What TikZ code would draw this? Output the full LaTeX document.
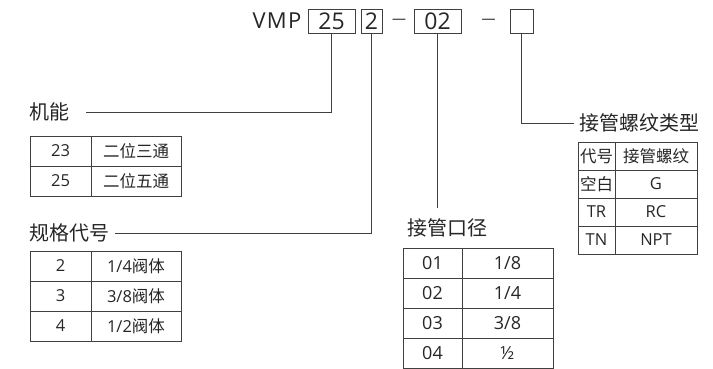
\documentclass[tikz,border=0pt]{standalone}
\usepackage{fontspec}
\setmainfont{Open Sans}
\newfontfamily\cjk{Noto Sans CJK SC}
\usepackage{tikz}
\usetikzlibrary{positioning}

\begin{document}
\begin{tikzpicture}[
    x=1pt, y=-1pt,
    line width=0.8pt, draw=black!75,
    codebox/.style={draw, minimum height=24pt, inner sep=0pt, outer sep=0pt,
        text=black!85, font=\fontsize{23}{23}\selectfont},
    title/.style={inner sep=0pt, text=black!85,
        font=\fontsize{22}{22}\selectfont\addfontfeatures{LetterSpace=6}},
    sep/.style={inner sep=0pt, text=black!85, font=\fontsize{14}{14}\selectfont},
    label/.style={inner sep=0pt, text=black!85, font=\fontsize{20}{20}\selectfont\cjk},
    cell/.style={draw, inner sep=0pt, outer sep=0pt, text=black!85,
        font=\fontsize{16.5}{16.5}\selectfont},
    bigcell/.style={cell, font=\fontsize{18}{18}\selectfont},
    link/.style={draw=black!75, line width=0.8pt}
]
    \useasboundingbox (0,0) rectangle (713,369);

    % Top: model code
    \node[title] (vmp) at (277,21) {VMP};
    \node[codebox, minimum width=47pt] (b25) at (331.5,21) {25};
    \node[codebox, minimum width=21pt] (b2) at (371.5,21) {2};
    \node[sep] (dash1) at (399,21) {—};
    \node[codebox, minimum width=47pt] (b02) at (437.5,21) {02};
    \node[sep] (dash2) at (488.5,21) {—};
    \node[codebox, minimum width=23pt] (bx) at (521.5,21) {};

    % Labels
    \node[label, anchor=west] (jineng) at (29,112) {机能};
    \node[label, anchor=west] (guige) at (29,233) {规格代号};
    \node[label] (jiekou) at (447,228) {接管口径};
    \node[label, anchor=west] (luowen) at (579,123) {接管螺纹类型};

    % Table: function
    \node[cell, minimum width=61pt, minimum height=30pt, anchor=north west] (f1a) at (30,136) {23};
    \node[cell, minimum width=90pt, minimum height=30pt, right=0pt of f1a] (f1b) {\cjk 二位三通};
    \node[cell, minimum width=61pt, minimum height=30pt, below=0pt of f1a] (f2a) {25};
    \node[cell, minimum width=90pt, minimum height=30pt, right=0pt of f2a] (f2b) {\cjk 二位五通};

    % Table: size code
    \node[cell, minimum width=61pt, minimum height=30pt, anchor=north west] (s1a) at (30,251) {2};
    \node[cell, minimum width=90pt, minimum height=30pt, right=0pt of s1a] (s1b) {1/4{\cjk 阀体}};
    \node[cell, minimum width=61pt, minimum height=30pt, below=0pt of s1a] (s2a) {3};
    \node[cell, minimum width=90pt, minimum height=30pt, right=0pt of s2a] (s2b) {3/8{\cjk 阀体}};
    \node[cell, minimum width=61pt, minimum height=30pt, below=0pt of s2a] (s3a) {4};
    \node[cell, minimum width=90pt, minimum height=30pt, right=0pt of s3a] (s3b) {1/2{\cjk 阀体}};

    % Table: port size
    \node[bigcell, minimum width=59pt, minimum height=30pt, anchor=north west] (p1a) at (403,248) {01};
    \node[bigcell, minimum width=91pt, minimum height=30pt, right=0pt of p1a] (p1b) {1/8};
    \node[bigcell, minimum width=59pt, minimum height=30pt, below=0pt of p1a] (p2a) {02};
    \node[bigcell, minimum width=91pt, minimum height=30pt, right=0pt of p2a] (p2b) {1/4};
    \node[bigcell, minimum width=59pt, minimum height=30pt, below=0pt of p2a] (p3a) {03};
    \node[bigcell, minimum width=91pt, minimum height=30pt, right=0pt of p3a] (p3b) {3/8};
    \node[bigcell, minimum width=59pt, minimum height=30pt, below=0pt of p3a] (p4a) {04};
    \node[bigcell, minimum width=91pt, minimum height=30pt, right=0pt of p4a] (p4b) {½};

    % Table: thread type
    \node[cell, minimum width=37pt, minimum height=28pt, anchor=north west] (t1a) at (578,142) {\cjk 代号};
    \node[cell, minimum width=82pt, minimum height=28pt, right=0pt of t1a] (t1b) {\cjk 接管螺纹};
    \node[cell, minimum width=37pt, minimum height=28pt, below=0pt of t1a] (t2a) {\cjk 空白};
    \node[cell, minimum width=82pt, minimum height=28pt, right=0pt of t2a] (t2b) {G};
    \node[cell, minimum width=37pt, minimum height=28pt, below=0pt of t2a] (t3a) {TR};
    \node[cell, minimum width=82pt, minimum height=28pt, right=0pt of t3a] (t3b) {RC};
    \node[cell, minimum width=37pt, minimum height=28pt, below=0pt of t3a] (t4a) {TN};
    \node[cell, minimum width=82pt, minimum height=28pt, right=0pt of t4a] (t4b) {NPT};

    % Leader lines
    \draw[link] (b25.south) |- ([xshift=16pt]jineng.east);
    \draw[link] (b2.south) |- ([xshift=5pt]guige.east);
    \draw[link] (b02.south) -- (b02.south |- 0,208);
    \draw[link] (bx.south) |- ([xshift=-5pt]luowen.west);
\end{tikzpicture}
\end{document}
